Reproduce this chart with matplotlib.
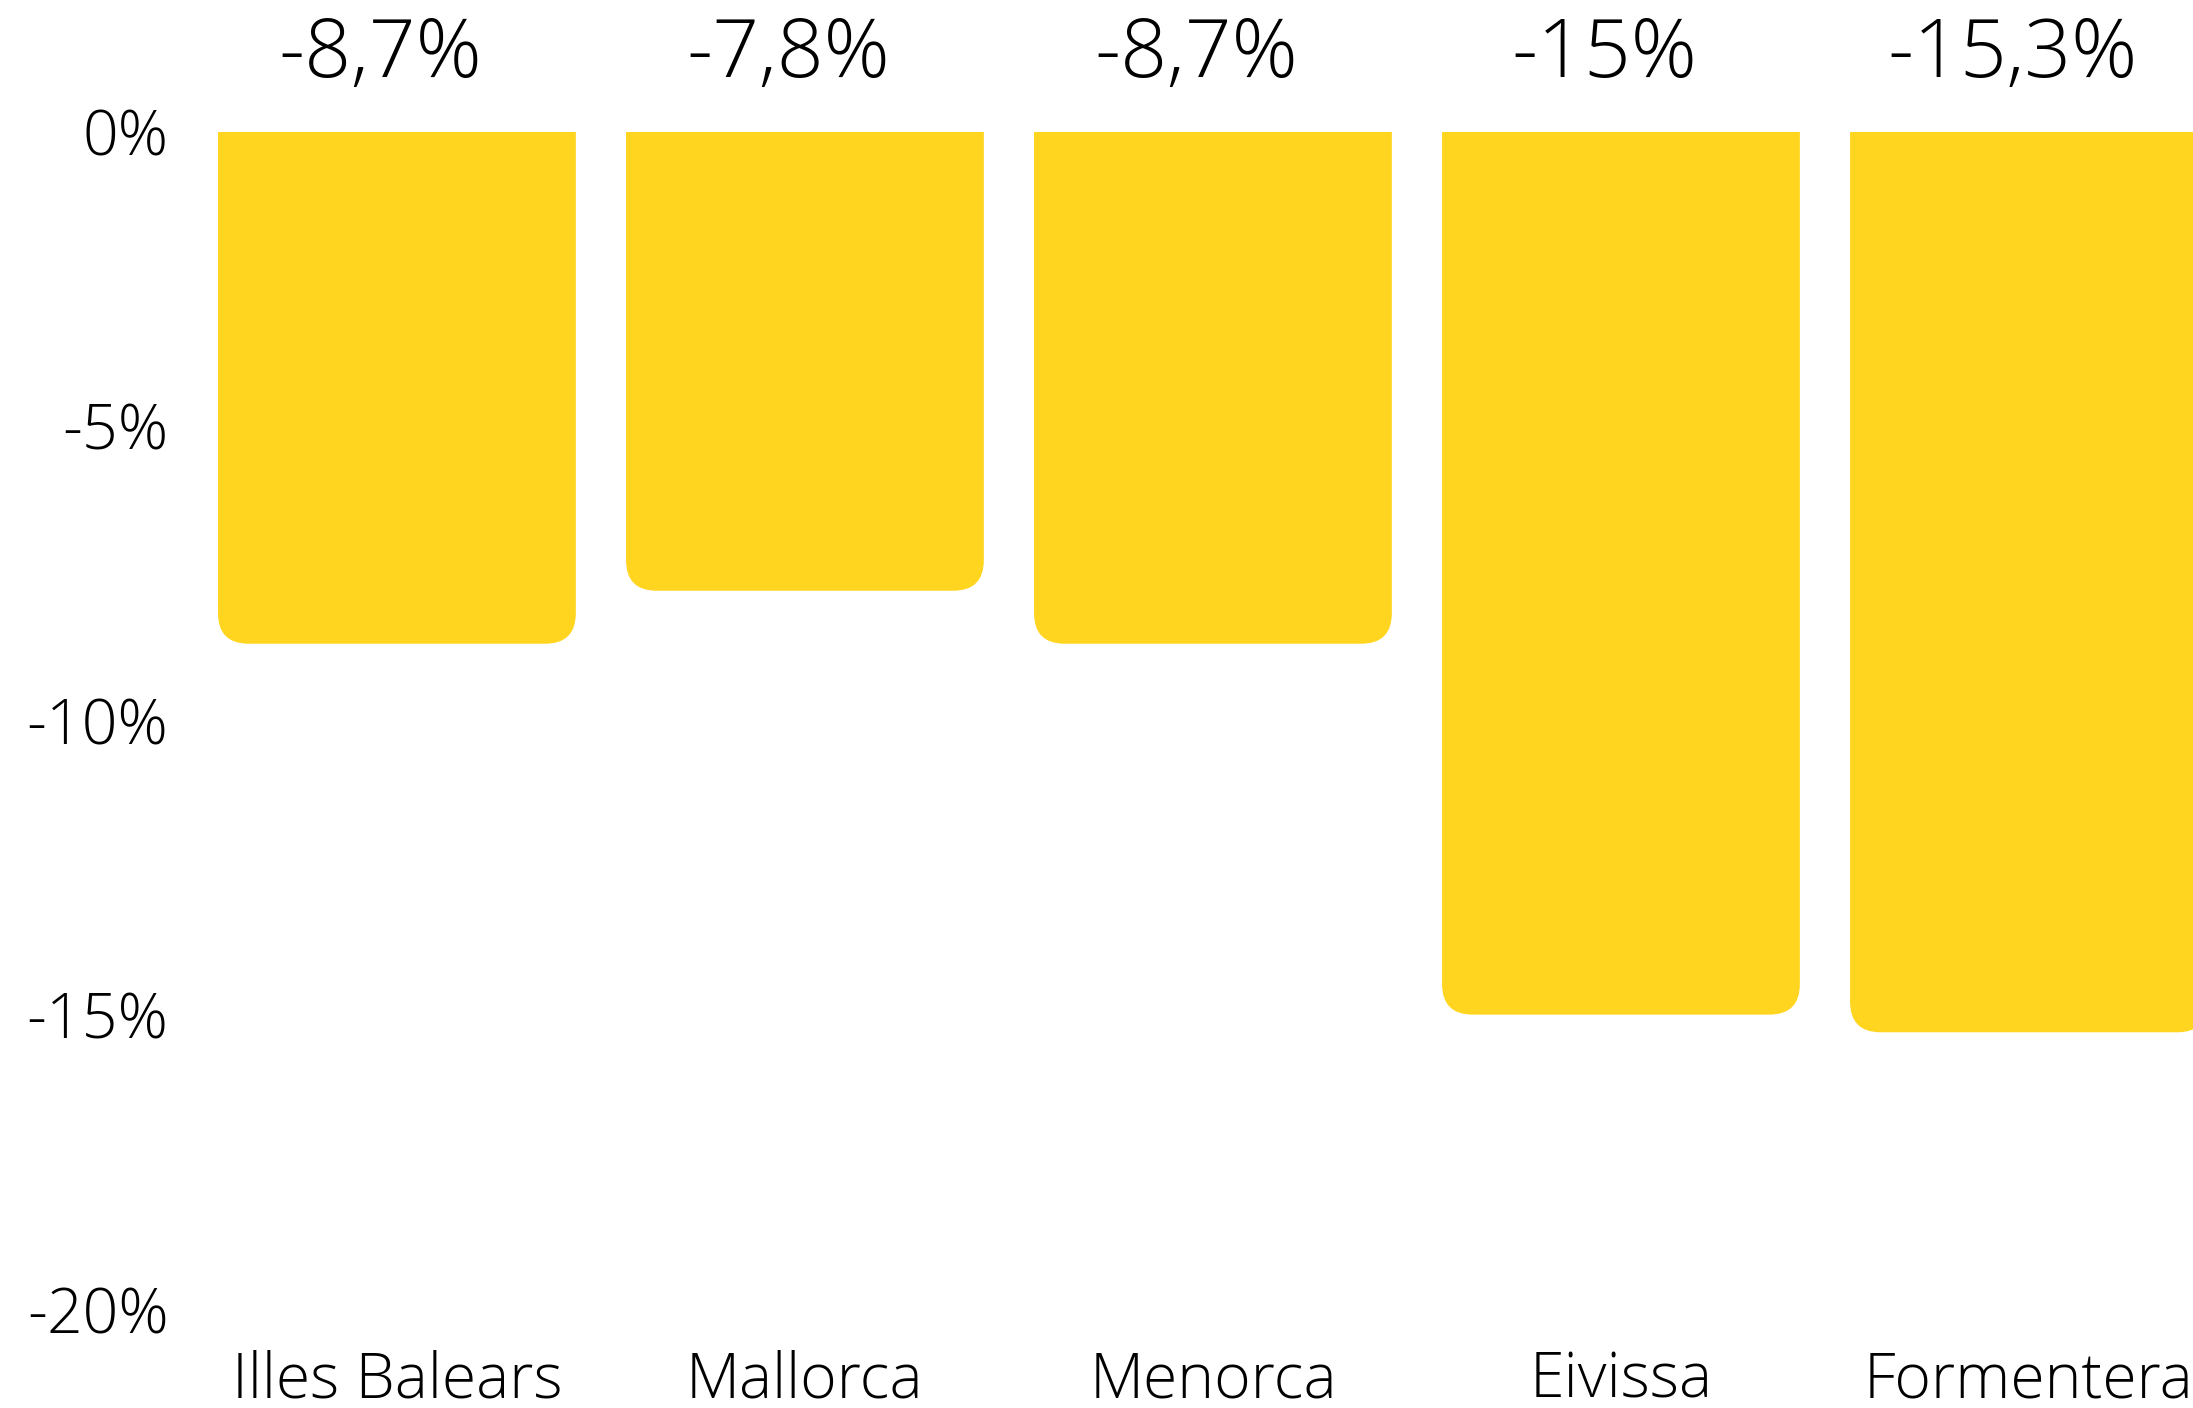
import matplotlib.pyplot as plt
from matplotlib.patches import FancyBboxPatch

islands = ["Illes Balears", "Mallorca", "Menorca", "Eivissa", "Formentera"]
change = [-8.7, -7.8, -8.7, -15.0, -15.3]
labels = ["-8,7%", "-7,8%", "-8,7%", "-15%", "-15,3%"]
yticks = [0, -5, -10, -15, -20]
ytick_labels = ["0%", "-5%", "-10%", "-15%", "-20%"]

yellow = "#FFD520"
plt.rcParams['font.family'] = ['Open Sans', 'DejaVu Sans']

W, H = 2193, 1408
fig = plt.figure(figsize=(W / 100, H / 100), dpi=100)
ax = fig.add_axes([188 / W, (H - 1309) / H, (W - 188) / W, (1309 - 131.5) / H])
ax.set_xlim(-0.512, 4.402)
ax.set_ylim(-20, 0)

bars = ax.bar(range(len(islands)), change, width=0.877, color=yellow)

# swap the plain bars for ones with rounded bottom corners
# (the top corners stick out above 0 and get clipped by the axes)
r = 0.075
aspect = (20 / (1309 - 131.5)) / (1 / 408)
for rect in bars:
    x, y, w, h = rect.get_x(), rect.get_y(), rect.get_width(), rect.get_height()
    bottom = min(y, y + h)
    patch = FancyBboxPatch((x, bottom), w, -bottom + 1.0,
                           boxstyle=f"round,pad=0,rounding_size={r}",
                           mutation_aspect=aspect, facecolor=yellow,
                           edgecolor='none', clip_on=True)
    ax.add_patch(patch)
    rect.remove()

for i, lab in enumerate(labels):
    ax.annotate(lab, xy=(i, 1), xycoords=('data', 'axes fraction'),
                xytext=(-12, 39), textcoords='offset points',
                ha='center', va='baseline', fontsize=59, fontweight='light',
                annotation_clip=False)

ax.set_yticks(yticks)
ax.set_yticklabels(ytick_labels, fontsize=45, fontweight='light')
ax.set_xticks(range(len(islands)))
ax.set_xticklabels(islands, fontsize=45, fontweight='light')
ax.tick_params(axis='both', length=0)
ax.tick_params(axis='y', pad=14)
ax.tick_params(axis='x', pad=29)
for s in ax.spines.values():
    s.set_visible(False)

fig.savefig('out.png', dpi=100, facecolor='white')
